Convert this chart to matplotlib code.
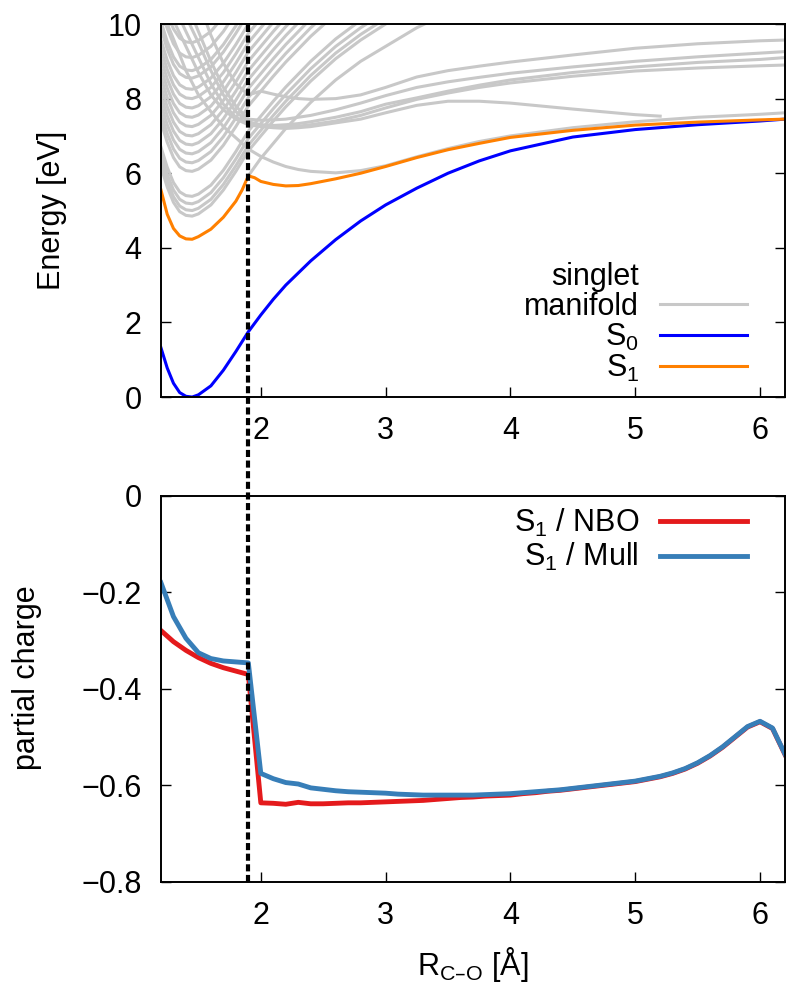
import matplotlib
matplotlib.use("Agg")
import matplotlib.pyplot as plt
from matplotlib.lines import Line2D
from matplotlib.transforms import blended_transform_factory

plt.rcParams["font.family"] = ["Liberation Sans", "DejaVu Sans"]
plt.rcParams["mathtext.default"] = "regular"
plt.rcParams["font.size"] = 22

# ---- potential energy curves (eV) ----
X_S0 = [1.2, 1.25, 1.3, 1.35, 1.4, 1.45, 1.5, 1.6, 1.7, 1.8, 1.9, 2.0, 2.1, 2.2,
        2.4, 2.6, 2.8, 3.0, 3.25, 3.5, 3.75, 4.0, 4.5, 5.0, 5.5, 6.0, 6.2]
S0 = [1.32, 0.78, 0.37, 0.12, 0.02, 0.0, 0.06, 0.3, 0.72, 1.22, 1.75, 2.2, 2.62, 3.0,
      3.65, 4.22, 4.72, 5.15, 5.6, 6.0, 6.33, 6.6, 6.97, 7.17, 7.3, 7.4, 7.45]

X_S1 = [1.2, 1.25, 1.3, 1.35, 1.4, 1.45, 1.5, 1.6, 1.7, 1.8, 1.85, 1.9, 1.95, 2.0,
        2.1, 2.2, 2.3, 2.4, 2.6, 2.8, 3.0, 3.25, 3.5, 3.75, 4.0, 4.5, 5.0, 5.5, 6.0, 6.2]
S1 = [5.55, 4.9, 4.52, 4.32, 4.24, 4.23, 4.3, 4.5, 4.82, 5.25, 5.55, 5.93, 5.88, 5.78,
      5.7, 5.66, 5.67, 5.72, 5.85, 6.0, 6.18, 6.42, 6.63, 6.8, 6.96, 7.15, 7.29, 7.37, 7.43, 7.45]

# Rydberg-like singlets (bound, steep on both sides)
X_RYD = [1.2, 1.25, 1.3, 1.35, 1.4, 1.45, 1.5, 1.6, 1.7, 1.8, 1.9, 2.0, 2.1, 2.2,
         2.4, 2.6, 2.8, 3.0, 3.25, 3.5]
RYD = [
    [6.17, 5.63, 5.22, 4.97, 4.87, 4.85, 4.91, 5.15, 5.55, 6.05, 6.60, 7.00, 7.40, 7.78, 8.47, 9.07, 9.57, 10.00, 10.45],
    [6.32, 5.78, 5.37, 5.12, 5.02, 5.00, 5.06, 5.30, 5.70, 6.20, 6.75, 7.15, 7.55, 7.93, 8.62, 9.22, 9.72, 10.15],
    [6.50, 5.96, 5.55, 5.30, 5.20, 5.18, 5.24, 5.48, 5.88, 6.38, 6.93, 7.33, 7.73, 8.11, 8.80, 9.40, 9.90, 10.33],
    [6.70, 6.16, 5.75, 5.50, 5.40, 5.38, 5.44, 5.68, 6.08, 6.58, 7.13, 7.53, 7.93, 8.31, 9.00, 9.60, 10.10],
    [7.37, 6.83, 6.42, 6.17, 6.07, 6.05, 6.11, 6.35, 6.75, 7.25, 7.80, 8.20, 8.60, 8.98, 9.67, 10.27],
    [7.60, 7.06, 6.65, 6.40, 6.30, 6.28, 6.34, 6.58, 6.98, 7.48, 8.03, 8.43, 8.83, 9.21, 9.90, 10.50],
    [7.84, 7.30, 6.89, 6.64, 6.54, 6.52, 6.58, 6.82, 7.22, 7.72, 8.27, 8.67, 9.07, 9.45, 10.14],
    [8.08, 7.54, 7.13, 6.88, 6.78, 6.76, 6.82, 7.06, 7.46, 7.96, 8.51, 8.91, 9.31, 9.69, 10.38],
    [8.32, 7.78, 7.37, 7.12, 7.02, 7.00, 7.06, 7.30, 7.70, 8.20, 8.75, 9.15, 9.55, 9.93, 10.62],
    [8.57, 8.03, 7.62, 7.37, 7.27, 7.25, 7.31, 7.55, 7.95, 8.45, 9.00, 9.40, 9.80, 10.18],
    [8.82, 8.28, 7.87, 7.62, 7.52, 7.50, 7.56, 7.80, 8.20, 8.70, 9.25, 9.65, 10.05],
    [9.07, 8.53, 8.12, 7.87, 7.77, 7.75, 7.81, 8.05, 8.45, 8.95, 9.50, 9.90, 10.30],
    [9.32, 8.78, 8.37, 8.12, 8.02, 8.00, 8.06, 8.30, 8.70, 9.20, 9.75, 10.15],
    [9.57, 9.03, 8.62, 8.37, 8.27, 8.25, 8.31, 8.55, 8.95, 9.45, 10.00, 10.40],
    [9.87, 9.33, 8.92, 8.67, 8.57, 8.55, 8.61, 8.85, 9.25, 9.75, 10.30],
    [10.07, 9.53, 9.12, 8.87, 8.77, 8.75, 8.81, 9.05, 9.45, 9.95, 10.50],
    [10.42, 9.88, 9.47, 9.22, 9.12, 9.10, 9.16, 9.40, 9.80, 10.30],
    [10.82, 10.28, 9.87, 9.62, 9.52, 9.50, 9.56, 9.80, 10.20],
]

# upper branch leaving the S1/S2 crossing
X_S2 = [1.9, 2.0, 2.1, 2.2, 2.4, 2.6, 2.8, 3.0, 3.25, 3.5]
S2 = [5.93, 6.4, 6.8, 7.2, 7.9, 8.5, 9.0, 9.4, 9.9, 10.3]

# valence-type singlets that dissociate
X_VAL = [1.2, 1.3, 1.4, 1.5, 1.6, 1.7, 1.8, 1.9, 2.0, 2.1, 2.2, 2.3, 2.4, 2.6, 2.8,
         3.0, 3.25, 3.5, 3.75, 4.0, 4.5, 5.0, 5.5, 6.0, 6.2]
VAL = [
    [10.4, 9.6, 8.75, 8.1, 7.65, 7.25, 6.95, 6.65, 6.45, 6.3, 6.18, 6.1, 6.05, 6.01, 6.07,
     6.2, 6.44, 6.66, 6.85, 7.0, 7.22, 7.38, 7.5, 7.58, 7.62],
    [12.5, 11.8, 11.2, 10.6, 9.7, 8.95, 8.4, 8.1, 8.2, 8.12, 8.05, 8.0, 7.98, 8.0, 8.1,
     8.3, 8.58, 8.75, 8.87, 8.98, 9.17, 9.35, 9.47, 9.55, 9.57],
    [12.0, 11.3, 10.6, 9.8, 9.0, 8.3, 7.8, 7.45, 7.42, 7.43, 7.45, 7.5, 7.55, 7.7, 7.88,
     8.08, 8.3, 8.45, 8.57, 8.68, 8.85, 9.0, 9.12, 9.22, 9.26],
    [11.6, 10.9, 10.2, 9.5, 8.75, 8.1, 7.65, 7.38, 7.3, 7.28, 7.3, 7.33, 7.38, 7.5, 7.65,
     7.85, 8.02, 8.2, 8.36, 8.5, 8.7, 8.85, 8.97, 9.05, 9.1],
    [11.2, 10.5, 9.8, 9.1, 8.4, 7.85, 7.5, 7.33, 7.28, 7.25, 7.24, 7.26, 7.3, 7.4, 7.55,
     7.75, 7.98, 8.15, 8.3, 8.42, 8.6, 8.74, 8.82, 8.88, 8.9],
]
# this one was only computed up to 5.2 A
X_VAL_SHORT = [1.2, 1.3, 1.4, 1.5, 1.6, 1.7, 1.8, 1.9, 2.0, 2.1, 2.2, 2.3, 2.4, 2.6, 2.8,
               3.0, 3.25, 3.5, 3.75, 4.0, 4.5, 5.0, 5.2]
VAL_SHORT = [10.8, 10.1, 9.4, 8.7, 8.1, 7.7, 7.45, 7.3, 7.25, 7.22, 7.2, 7.22, 7.25, 7.35, 7.45,
             7.62, 7.82, 7.93, 7.93, 7.88, 7.72, 7.57, 7.53]

# ---- partial charge on O in S1 ----
R_CHG = [1.2, 1.3, 1.4, 1.5, 1.6, 1.7, 1.8, 1.9, 2.0, 2.1, 2.2, 2.3, 2.4, 2.5, 2.6, 2.7,
         2.8, 2.9, 3.0, 3.1, 3.2, 3.3, 3.4, 3.5, 3.6, 3.7, 3.8, 3.9, 4.0, 4.1, 4.2, 4.3,
         4.4, 4.5, 4.6, 4.7, 4.8, 4.9, 5.0, 5.1, 5.2, 5.3, 5.4, 5.5, 5.6, 5.7, 5.8, 5.9,
         6.0, 6.1, 6.2]
Q_NBO = [-0.279, -0.302, -0.320, -0.335, -0.347, -0.356, -0.363, -0.370, -0.636, -0.637,
         -0.639, -0.635, -0.638, -0.638, -0.637, -0.636, -0.636, -0.635, -0.634, -0.633,
         -0.632, -0.631, -0.629, -0.627, -0.625, -0.624, -0.622, -0.621, -0.620, -0.617,
         -0.615, -0.612, -0.610, -0.607, -0.604, -0.601, -0.598, -0.595, -0.592, -0.587,
         -0.582, -0.575, -0.566, -0.554, -0.539, -0.521, -0.500, -0.479, -0.468, -0.482,
         -0.536]
Q_MULL = [-0.180, -0.250, -0.295, -0.325, -0.337, -0.342, -0.344, -0.346, -0.575, -0.586,
          -0.594, -0.597, -0.605, -0.608, -0.611, -0.613, -0.614, -0.615, -0.616, -0.618,
          -0.619, -0.620, -0.620, -0.620, -0.620, -0.620, -0.619, -0.618, -0.617, -0.615,
          -0.613, -0.611, -0.609, -0.606, -0.603, -0.600, -0.597, -0.594, -0.591, -0.586,
          -0.581, -0.574, -0.565, -0.553, -0.538, -0.520, -0.499, -0.478, -0.467, -0.481,
          -0.535]

R_CROSS = 1.9  # S1/S2 avoided crossing

GRAY = "#c8c8c8"

fig = plt.figure(figsize=(7.86, 9.84), dpi=100)
ax1 = fig.add_axes([0.2048, 0.5965, 0.7939, 0.3791])
ax2 = fig.add_axes([0.2048, 0.1037, 0.7939, 0.3923])

# top: energies
for vals in RYD:
    ax1.plot(X_RYD[:len(vals)], vals, color=GRAY, lw=2.2)
for vals in VAL:
    ax1.plot(X_VAL, vals, color=GRAY, lw=2.2)
ax1.plot(X_VAL_SHORT, VAL_SHORT, color=GRAY, lw=2.2)
ax1.plot(X_S2, S2, color=GRAY, lw=2.2)
ax1.plot(X_S0, S0, color="#0000ff", lw=2.2)
ax1.plot(X_S1, S1, color="#ff8000", lw=2.2)

ax1.set_xlim(1.2, 6.2)
ax1.set_ylim(0, 10)
ax1.set_xticks([2, 3, 4, 5, 6])
ax1.set_yticks([0, 2, 4, 6, 8, 10])
ax1.set_ylabel("Energy [eV]")
ax1.yaxis.set_label_coords(-0.151, 0.5)

h_blank = Line2D([], [], color="none")
h_gray = Line2D([], [], color=GRAY, lw=2.2)
h_s0 = Line2D([], [], color="#0000ff", lw=2.2)
h_s1 = Line2D([], [], color="#ff8000", lw=2.2)
ax1.legend([h_blank, h_gray, h_s0, h_s1], ["singlet", "manifold", "S$_0$", "S$_1$"],
           loc="lower right", bbox_to_anchor=(0.939, 0.035), markerfirst=False,
           frameon=False, borderpad=0, borderaxespad=0, handlelength=2.84,
           handletextpad=0.69, labelspacing=0.0, fontsize=22)

# bottom: charges
ax2.plot(R_CHG, Q_NBO, color="#e41a1c", lw=3.5, label="S$_1$ / NBO")
ax2.plot(R_CHG, Q_MULL, color="#377eb8", lw=3.5, label="S$_1$ / Mull")
ax2.set_xlim(1.2, 6.2)
ax2.set_ylim(-0.8, 0)
ax2.set_xticks([2, 3, 4, 5, 6])
ax2.set_yticks([-0.8, -0.6, -0.4, -0.2, 0], labels=["\u22120.8", "\u22120.6", "\u22120.4", "\u22120.2", "0"])
ax2.set_ylabel("partial charge")
ax2.yaxis.set_label_coords(-0.19, 0.53)
ax2.set_xlabel("R$_{C\u2013O}$ [Å]", labelpad=10)
ax2.legend(loc="upper right", bbox_to_anchor=(0.939, 0.972), markerfirst=False,
           frameon=False, borderpad=0, borderaxespad=0, handlelength=2.84,
           handletextpad=0.69, labelspacing=0.08, fontsize=22)

for ax in (ax1, ax2):
    ax.tick_params(direction="in", length=7, width=1, top=False, right=True,
                   labelsize=22, pad=14)
    for sp in ax.spines.values():
        sp.set_linewidth(1.4)

# vertical marker through both panels
trans = blended_transform_factory(ax1.transData, fig.transFigure)
y_lo = ax2.get_position().y0
y_hi = ax1.get_position().y1
fig.add_artist(Line2D([R_CROSS, R_CROSS], [y_lo, y_hi], transform=trans,
                      color="black", lw=3, dashes=(1.7, 0.85), zorder=10))

fig.savefig("out.png", dpi=100)
